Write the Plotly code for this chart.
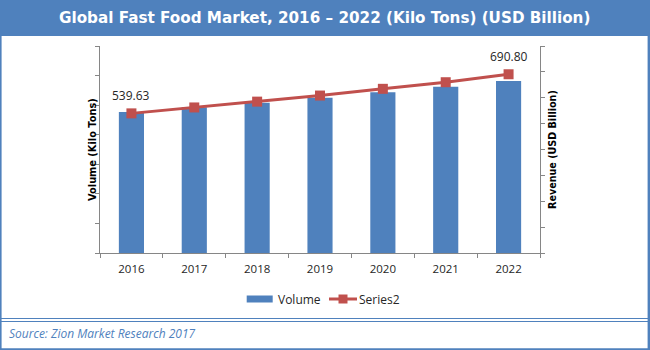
import plotly.graph_objects as go

# ---- data ----
years = ["2016", "2017", "2018", "2019", "2020", "2021", "2022"]
volume = [477, 493, 508, 525, 544, 562, 582]
series2 = [539.63, 562.5, 585.0, 608.5, 634.5, 660.0, 690.80]
labels = ["539.63", "", "", "", "", "", "690.80"]

title_text = "Global Fast Food Market, 2016 \u2013 2022 (Kilo Tons) (USD Billion)"
left_title = "Volume (Kilo Tons)"
right_title = "Revenue (USD Billion)"
source_text = "Source: Zion Market Research 2017"

BLUE = "#4F81BD"
RED = "#C0504D"
AXIS = "#868686"
TXT = "#262626"

W, H = 650, 350
PL, PR, PT, PB = 100, 540, 46, 253


def px(x):
    return (x - PL) / (PR - PL)


def py(y):
    return (PB - y) / (PB - PT)


fig = go.Figure()
fig.add_trace(go.Bar(x=years, y=volume, name="Volume", marker_color=BLUE,
                     marker_line_width=0, yaxis="y"))
fig.add_trace(go.Scatter(x=years, y=series2, name="Series2", mode="lines+markers",
                         line=dict(color=RED, width=3),
                         marker=dict(symbol="square", size=10, color=RED),
                         yaxis="y2"))

annotations = []
for i, (yv, t) in enumerate(zip(series2, labels)):
    if t:
        annotations.append(dict(x=i, y=yv, xref="x", yref="y2", text=t,
                                showarrow=False, yshift=17.5, yanchor="middle",
                                font=dict(family="Open Sans", size=12, color=TXT)))

shapes = []
# title band
shapes.append(dict(type="rect", xref="paper", yref="paper", x0=px(0), x1=px(W),
                   y0=py(0), y1=py(36), fillcolor=BLUE, line_width=0, layer="below"))
# borders
shapes.append(dict(type="rect", xref="paper", yref="paper", x0=px(0), x1=px(1.6),
                   y0=py(36), y1=py(H), fillcolor=BLUE, line_width=0))
shapes.append(dict(type="rect", xref="paper", yref="paper", x0=px(647.6), x1=px(W),
                   y0=py(36), y1=py(H), fillcolor=BLUE, line_width=0))
for yy in (318.5, 321.5):
    shapes.append(dict(type="line", xref="paper", yref="paper", x0=px(0), x1=px(W),
                       y0=py(yy), y1=py(yy), line=dict(color=BLUE, width=1.2)))
shapes.append(dict(type="rect", xref="paper", yref="paper", x0=px(0), x1=px(W),
                   y0=py(348.3), y1=py(H), fillcolor=BLUE, line_width=0))
# custom legend
shapes.append(dict(type="rect", xref="paper", yref="paper", x0=px(246.7), x1=px(272.7),
                   y0=py(295.5), y1=py(302.5), fillcolor=BLUE, line_width=0))
shapes.append(dict(type="line", xref="paper", yref="paper", x0=px(329), x1=px(357),
                   y0=py(299), y1=py(299), line=dict(color=RED, width=3)))
shapes.append(dict(type="rect", xref="paper", yref="paper", x0=px(338.5), x1=px(347.5),
                   y0=py(294.5), y1=py(303.5), fillcolor=RED, line_width=0))

annotations += [
    dict(x=px(324), y=py(17.5), xref="paper", yref="paper", text="<b>" + title_text + "</b>",
         showarrow=False, xanchor="center", yanchor="middle",
         font=dict(family="DejaVu Sans", size=15.2, color="white")),
    dict(x=px(92), y=py(150), xref="paper", yref="paper", text="<b>" + left_title + "</b>",
         showarrow=False, textangle=-90, xanchor="center", yanchor="middle",
         font=dict(family="DejaVu Sans", size=9.8, color="black")),
    dict(x=px(552), y=py(150), xref="paper", yref="paper", text="<b>" + right_title + "</b>",
         showarrow=False, textangle=-90, xanchor="center", yanchor="middle",
         font=dict(family="DejaVu Sans", size=9.6, color="black")),
    dict(x=px(276), y=py(299), xref="paper", yref="paper", text="Volume",
         showarrow=False, xanchor="left", yanchor="middle",
         font=dict(family="Open Sans", size=12, color=TXT)),
    dict(x=px(357), y=py(299), xref="paper", yref="paper", text="Series2",
         showarrow=False, xanchor="left", yanchor="middle",
         font=dict(family="Open Sans", size=12, color=TXT)),
    dict(x=px(7), y=py(333), xref="paper", yref="paper", text="<i>" + source_text + "</i>",
         showarrow=False, xanchor="left", yanchor="middle",
         font=dict(family="Open Sans", size=12, color=BLUE)),
]

fig.update_layout(
    width=W, height=H,
    margin=dict(l=PL, r=W - PR, t=PT, b=H - PB),
    paper_bgcolor="white", plot_bgcolor="white",
    showlegend=False, bargap=0.6,
    font=dict(family="Open Sans", size=12, color=TXT),
    xaxis=dict(type="category", range=[-0.5, len(years) - 0.5], showline=True,
               linecolor=AXIS, linewidth=1,
               ticks="outside", ticklen=4, tickcolor=AXIS, tickson="boundaries",
               showgrid=False, zeroline=False, tickangle=0, ticklabelstandoff=5,
               tickfont=dict(family="Open Sans", size=11.5, color=TXT)),
    yaxis=dict(range=[0, 700], dtick=100, showticklabels=False, showline=True,
               linecolor=AXIS, linewidth=1, ticks="outside", ticklen=4, tickcolor=AXIS,
               showgrid=False, zeroline=False),
    yaxis2=dict(range=[0, 800], dtick=100, overlaying="y", side="right",
                showticklabels=False, showline=True, linecolor=AXIS, linewidth=1,
                ticks="outside", ticklen=4, tickcolor=AXIS, showgrid=False,
                zeroline=False),
    shapes=shapes, annotations=annotations,
)

fig.write_html("out.html")
